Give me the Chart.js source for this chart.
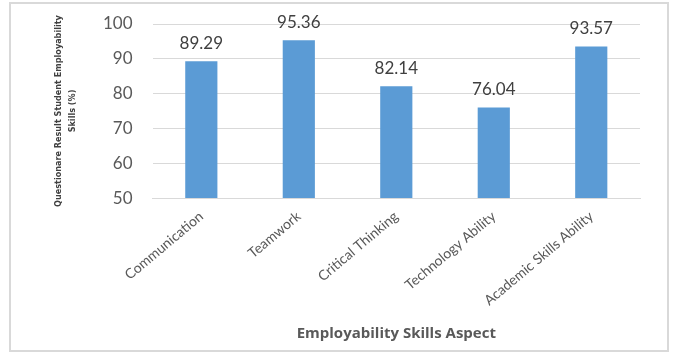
<!DOCTYPE html>
<html>
<head>
<meta charset="utf-8">
<script src="https://cdn.jsdelivr.net/npm/chart.js@4"></script>
<style>
  html, body { margin: 0; padding: 0; background: #fff; }
  #wrap { width: 673px; height: 362px; position: relative; }
</style>
</head>
<body>
<div id="wrap"><canvas id="c"></canvas></div>
<script>
// skill aspects and scores
const categories = ['Communication', 'Teamwork', 'Critical Thinking', 'Technology Ability', 'Academic Skills Ability'];
const scores = [89.29, 95.36, 82.14, 76.04, 93.57];
const yTicks = [50, 60, 70, 80, 90, 100];

const textGrey = '#595959';

// labels over the bars (no datalabels plugin available)
const valueLabels = {
  id: 'valueLabels',
  afterDatasetsDraw(chart) {
    const ctx = chart.ctx;
    const meta = chart.getDatasetMeta(0);
    ctx.save();
    ctx.font = '17px Lato';
    ctx.fillStyle = '#404040';
    ctx.textAlign = 'center';
    ctx.textBaseline = 'bottom';
    meta.data.forEach((bar, i) => {
      ctx.fillText(scores[i].toFixed(2), bar.x, bar.y - 9);
    });
    ctx.restore();
  }
};

// thin grey frame around the whole chart
const frame = {
  id: 'frame',
  beforeDraw(chart) {
    const ctx = chart.ctx;
    ctx.save();
    ctx.fillStyle = '#fff';
    ctx.fillRect(0, 0, chart.width, chart.height);
    ctx.strokeStyle = '#D9D9D9';
    ctx.lineWidth = 2;
    ctx.strokeRect(10, 3, 658, 348);
    ctx.restore();
  }
};

new Chart(document.getElementById('c'), {
  type: 'bar',
  data: {
    labels: categories,
    datasets: [{
      data: scores,
      backgroundColor: '#5B9BD5',
      categoryPercentage: 1,
      barPercentage: 0.33
    }]
  },
  options: {
    responsive: true,
    maintainAspectRatio: false,
    animation: false,
    layout: { padding: { left: 52, right: 33, top: 24, bottom: 19 } },
    plugins: {
      legend: { display: false },
      tooltip: { enabled: false }
    },
    scales: {
      y: {
        min: 50,
        max: 100,
        afterBuildTicks: axis => { axis.ticks = yTicks.map(v => ({ value: v })); },
        // tick padding otherwise pushes the plot top down
        afterFit: axis => { axis.paddingTop = 0; axis.paddingBottom = 0; },
        grid: { color: '#D9D9D9', drawTicks: false },
        border: { display: false },
        ticks: {
          padding: 20,
          color: textGrey,
          font: { family: 'Lato', size: 17 }
        },
        title: {
          display: true,
          text: ['Questionare Result Student Employability', 'Skills (%)'],
          color: '#404040',
          font: { family: 'DejaVu Sans Condensed', size: 9, weight: 'bold', lineHeight: 1.5 },
          padding: { top: 0, bottom: 4 }
        }
      },
      x: {
        grid: { display: false },
        border: { color: '#D9D9D9' },
        ticks: {
          maxRotation: 40,
          minRotation: 40,
          padding: 2,
          color: textGrey,
          font: { family: 'Lato', size: 14 }
        },
        title: {
          display: true,
          text: 'Employability Skills Aspect',
          color: textGrey,
          font: { family: 'Open Sans', size: 15, weight: 'bold' },
          padding: { top: 14, bottom: 0 }
        }
      }
    }
  },
  plugins: [frame, valueLabels]
});
</script>
</body>
</html>
